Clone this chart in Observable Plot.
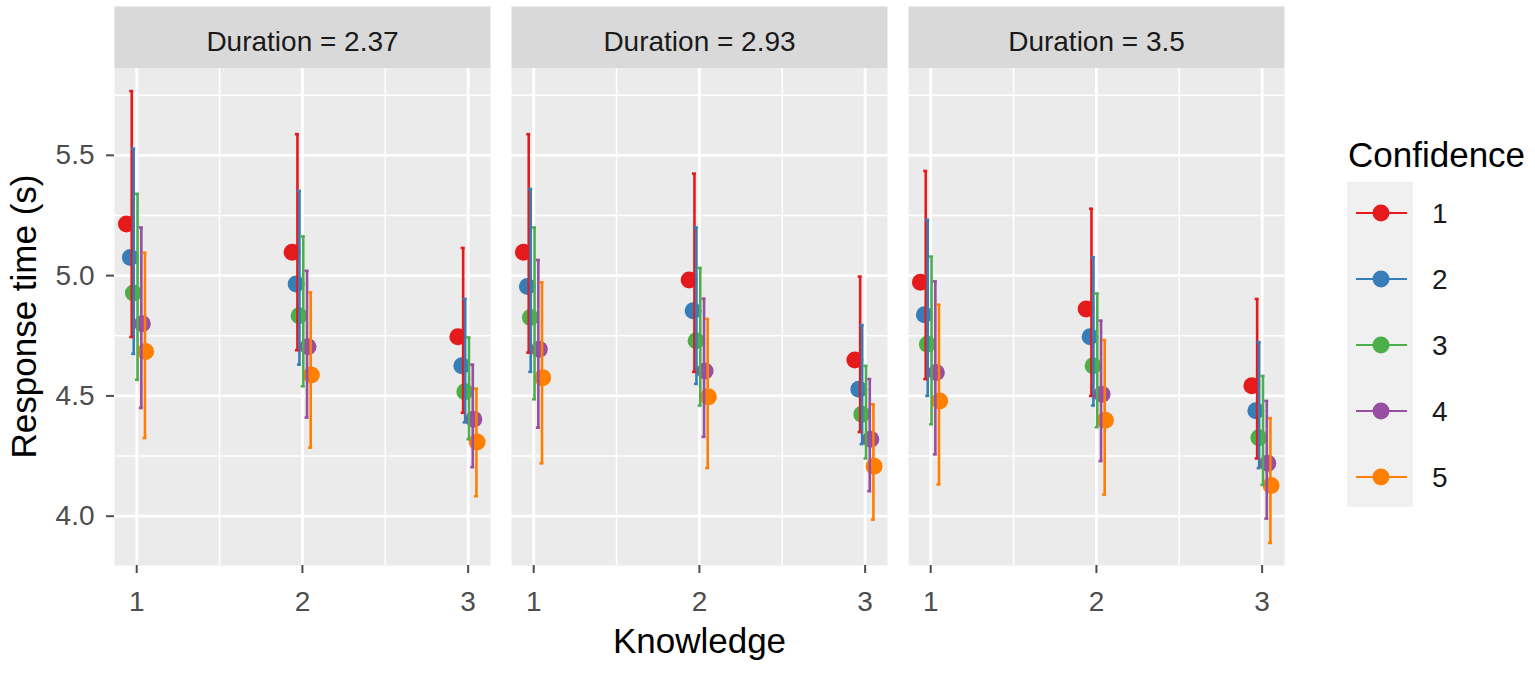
<!DOCTYPE html>
<html>
<head>
<meta charset="utf-8">
<script src="https://cdn.jsdelivr.net/npm/d3@7"></script>
<script src="https://cdn.jsdelivr.net/npm/@observablehq/plot@0.6"></script>
<style>
  html, body { margin: 0; padding: 0; background: #fff; }
  #wrap { position: relative; width: 1535px; height: 675px; font-family: "Liberation Sans", Arial, sans-serif; }
  #overlay { position: absolute; left: 0; top: 0; pointer-events: none; }
</style>
</head>
<body>
<div id="wrap"></div>
<script>
// ---- data ----
const durations = ["2.37", "2.93", "3.5"];
const knowledgeLevels = [1, 2, 3];
const confidenceLevels = ["1", "2", "3", "4", "5"];
const xTicks = [1, 2, 3];
const yTicks = [4.0, 4.5, 5.0, 5.5];

// rows: knowledge 1..3, columns: confidence 1..5
const mean237  = [[5.215, 5.075, 4.928, 4.800, 4.685],
                  [5.097, 4.965, 4.833, 4.704, 4.587],
                  [4.746, 4.625, 4.517, 4.403, 4.308]];
const upper237 = [[5.767, 5.528, 5.340, 5.200, 5.095],
                  [5.588, 5.352, 5.163, 5.020, 4.930],
                  [5.115, 4.903, 4.743, 4.630, 4.530]];
const lower237 = [[4.745, 4.675, 4.567, 4.450, 4.325],
                  [4.690, 4.630, 4.540, 4.410, 4.285],
                  [4.430, 4.390, 4.320, 4.204, 4.083]];

const mean293  = [[5.097, 4.955, 4.826, 4.694, 4.576],
                  [4.982, 4.854, 4.729, 4.604, 4.496],
                  [4.649, 4.528, 4.424, 4.320, 4.208]];
const upper293 = [[5.588, 5.360, 5.200, 5.065, 4.972],
                  [5.424, 5.200, 5.032, 4.904, 4.820],
                  [4.996, 4.794, 4.625, 4.570, 4.465]];
const lower293 = [[4.680, 4.600, 4.486, 4.368, 4.220],
                  [4.600, 4.550, 4.460, 4.330, 4.200],
                  [4.350, 4.300, 4.240, 4.104, 3.986]];

const mean35   = [[4.972, 4.837, 4.715, 4.597, 4.479],
                  [4.861, 4.746, 4.625, 4.507, 4.399],
                  [4.542, 4.438, 4.326, 4.220, 4.128]];
const upper35  = [[5.435, 5.232, 5.079, 4.976, 4.879],
                  [5.278, 5.076, 4.926, 4.813, 4.732],
                  [4.903, 4.723, 4.583, 4.479, 4.407]];
const lower35  = [[4.570, 4.500, 4.382, 4.257, 4.132],
                  [4.500, 4.460, 4.370, 4.229, 4.090],
                  [4.240, 4.200, 4.130, 3.990, 3.889]];

const colors = ["#E41A1C", "#377EB8", "#4DAF4A", "#984EA3", "#FF7F00"];

// ---- build table ----
const meanBy  = {"2.37": mean237,  "2.93": mean293,  "3.5": mean35};
const upperBy = {"2.37": upper237, "2.93": upper293, "3.5": upper35};
const lowerBy = {"2.37": lower237, "2.93": lower293, "3.5": lower35};

// dodge offsets (in Knowledge units) per confidence level
const pointDodge = [-0.062, -0.038, -0.02, 0.034, 0.054];
const barDodge   = [-0.030, -0.018, 0.005, 0.028, 0.050];
const capHalf = 0.012;

const rows = durations.flatMap(dur =>
  knowledgeLevels.flatMap((k, ki) =>
    confidenceLevels.map((c, ci) => ({
      duration: dur, knowledge: k, confidence: c, ci,
      mean: meanBy[dur][ki][ci],
      upper: upperBy[dur][ki][ci],
      lower: lowerBy[dur][ki][ci]
    }))));

const lo = d3.min(rows, d => d.lower), hi = d3.max(rows, d => d.upper);
const pad = 0.05 * (hi - lo);

const W = 1535, H = 675, mT = 68, mB = 110, mL = 114, mR = 250;
const facetH = H - mT - mB;
const font = "Liberation Sans, Arial, sans-serif";

const plot = Plot.plot({
  width: W, height: H,
  marginTop: mT, marginBottom: mB, marginLeft: mL, marginRight: mR,
  style: {fontFamily: font, background: "#fff", overflow: "visible"},
  fx: {domain: durations, paddingInner: 0.052, paddingOuter: 0},
  x: {domain: [0.866, 3.135]},
  y: {domain: [lo - pad, hi + pad]},
  color: {type: "ordinal", domain: confidenceLevels, range: colors},
  marks: [
    // strip backgrounds
    Plot.frame({fill: "#D9D9D9", insetTop: -(mT - 6), insetBottom: facetH}),
    // panel backgrounds
    Plot.frame({fill: "#EBEBEB"}),
    Plot.gridX([1.5, 2.5], {stroke: "#fff", strokeOpacity: 1, strokeWidth: 1.5}),
    Plot.gridY([4.25, 4.75, 5.25, 5.75], {stroke: "#fff", strokeOpacity: 1, strokeWidth: 1.5}),
    Plot.gridX(xTicks, {stroke: "#fff", strokeOpacity: 1, strokeWidth: 2.8}),
    Plot.gridY(yTicks, {stroke: "#fff", strokeOpacity: 1, strokeWidth: 2.8}),
    // points
    Plot.dot(rows, {
      fx: "duration",
      x: d => d.knowledge + pointDodge[d.ci],
      y: "mean", r: 8.5, fill: "confidence", stroke: "none"
    }),
    // error bars
    Plot.ruleX(rows, {
      fx: "duration",
      x: d => d.knowledge + barDodge[d.ci],
      y1: "lower", y2: "upper", stroke: "confidence", strokeWidth: 2.6
    }),
    Plot.ruleY(rows, {
      fx: "duration",
      x1: d => d.knowledge + barDodge[d.ci] - capHalf,
      x2: d => d.knowledge + barDodge[d.ci] + capHalf,
      y: "upper", stroke: "confidence", strokeWidth: 2.6
    }),
    Plot.ruleY(rows, {
      fx: "duration",
      x1: d => d.knowledge + barDodge[d.ci] - capHalf,
      x2: d => d.knowledge + barDodge[d.ci] + capHalf,
      y: "lower", stroke: "confidence", strokeWidth: 2.6
    }),
    // axes
    Plot.axisFx({anchor: "top", label: null, tickSize: 0, tickPadding: 18, fontSize: 28,
                 fill: "#1A1A1A", tickFormat: d => `Duration = ${d}`}),
    Plot.axisX({ticks: xTicks, tickFormat: d3.format("d"), label: null, tickSize: 8, tickPadding: 18,
                fontSize: 28, color: "#4D4D4D", strokeWidth: 2}),
    Plot.axisY({ticks: yTicks, tickFormat: d3.format(".1f"), label: null, tickSize: 8, tickPadding: 12,
                fontSize: 28, color: "#4D4D4D", strokeWidth: 2})
  ]
});

const wrap = document.getElementById("wrap");
wrap.appendChild(plot);

// ---- titles and legend overlay ----
const color = plot.scale("color");
const ov = d3.select(wrap).append("svg")
  .attr("id", "overlay").attr("width", W).attr("height", H)
  .style("font-family", font);

ov.append("text").attr("x", (mL + (W - mR)) / 2).attr("y", 653)
  .attr("text-anchor", "middle").attr("font-size", 35).attr("fill", "#000").text("Knowledge");
ov.append("text").attr("transform", `translate(36, ${(mT + H - mB) / 2}) rotate(-90)`)
  .attr("text-anchor", "middle").attr("font-size", 35).attr("fill", "#000").text("Response time (s)");

const lg = ov.append("g");
lg.append("text").attr("x", 1348).attr("y", 167).attr("font-size", 35).attr("fill", "#000").text("Confidence");
lg.append("rect").attr("x", 1347).attr("y", 182).attr("width", 66).attr("height", 325).attr("fill", "#F0F0F0");
const keys = lg.selectAll("g.key").data(color.domain).join("g")
  .attr("class", "key")
  .attr("transform", (d, i) => `translate(0, ${213 + i * 66})`);
keys.append("line").attr("x1", 1356).attr("x2", 1407).attr("y1", 0).attr("y2", 0)
  .attr("stroke", d => color.apply(d)).attr("stroke-width", 2.2);
keys.append("circle").attr("cx", 1381).attr("cy", 0).attr("r", 8.5).attr("fill", d => color.apply(d));
keys.append("text").attr("x", 1432).attr("y", 10).attr("font-size", 28).attr("fill", "#1A1A1A").text(d => d);
</script>
</body>
</html>
